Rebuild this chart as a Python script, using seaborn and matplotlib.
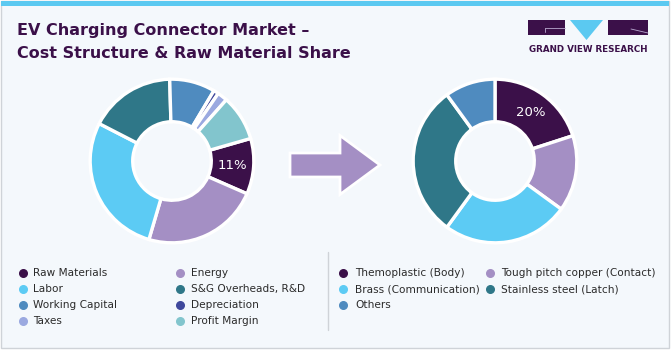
import matplotlib
matplotlib.use("Agg")
import matplotlib.pyplot as plt
import matplotlib.patches as mpatches
import seaborn as sns

# ---------------- data ----------------
cost_labels = ["Raw Materials", "Energy", "Labor", "S&G Overheads, R&D",
               "Working Capital", "Depreciation", "Taxes", "Profit Margin"]
cost_values = [11, 23, 28, 17, 9, 1.0, 2, 9]
cost_colors = ["#3b1049", "#a48fc4", "#5ccbf4", "#2f7788",
               "#4f8bbf", "#3f489c", "#9ba9e0", "#82c5cd"]

mat_labels = ["Themoplastic (Body)", "Tough pitch copper (Contact)",
              "Brass (Communication)", "Stainless steel (Latch)", "Others"]
mat_values = [20, 15, 25, 30, 10]
mat_colors = ["#3b1049", "#a48fc4", "#5ccbf4", "#2f7788", "#4f8bbf"]

title_lines = ["EV Charging Connector Market \u2013",
               "Cost Structure & Raw Material Share"]

# ---------------- figure ----------------
sns.set_style("white")
plt.rcParams["font.family"] = ["DejaVu Sans"]
W, H = 671, 351
fig = plt.figure(figsize=(W / 100, H / 100), dpi=100)
fig.patch.set_facecolor("white")

bg = fig.add_axes([0, 0, 1, 1], zorder=0)
bg.set_xlim(0, W)
bg.set_ylim(H, 0)
bg.axis("off")

# card
bg.add_patch(mpatches.Rectangle((1, 1), W - 3, H - 4, facecolor="#f4f8fc",
                                edgecolor="#cfd3d8", lw=1))
bg.add_patch(mpatches.Rectangle((1, 1), W - 3, 4.5, facecolor="#5bc9f1",
                                edgecolor="none"))

title_color = "#3b1049"
for i, line in enumerate(title_lines):
    bg.text(17, 31 + i * 23, line, fontsize=11.5, fontweight="bold",
            color=title_color, va="center", ha="left")

# logo
bg.add_patch(mpatches.Rectangle((528, 20), 37, 15, facecolor="#3b1049", lw=0))
bg.add_patch(mpatches.Polygon([[570, 20], [603, 20], [586.5, 40]], closed=True,
                              facecolor="#5bc9f1", lw=0))
bg.add_patch(mpatches.Rectangle((608, 20), 40, 15, facecolor="#3b1049", lw=0))
bg.plot([545, 565], [28, 28], color="#b9a9d0", lw=0.6)
bg.plot([545, 545], [28, 32], color="#b9a9d0", lw=0.6)
bg.plot([631, 648], [29, 33], color="#b9a9d0", lw=0.6)
bg.text(588, 50, "GRAND VIEW RESEARCH", fontsize=6.3, fontweight="bold",
        color="#3b1049", ha="center", va="center")

# arrow
bg.add_patch(mpatches.FancyArrow(290, 165, 90, 0, width=24, head_width=59,
                                 head_length=40, length_includes_head=True,
                                 facecolor="#a48fc4", edgecolor="white", lw=2))

# divider
bg.plot([328, 328], [252, 330], color="#cfd3d8", lw=1)


def donut(cx, cy, values, colors, start):
    r = 90
    ax = fig.add_axes([(cx - r) / W, (H - cy - r) / H, 2 * r / W, 2 * r / H],
                      zorder=2)
    wedges, texts, autotexts = ax.pie(
        values, colors=colors, startangle=start, counterclock=False,
        autopct="%.0f%%", pctdistance=0.74,
        wedgeprops=dict(width=0.52, edgecolor="white", linewidth=2.4),
        textprops=dict(color="white", fontsize=9.5))
    for t in autotexts[1:]:
        t.set_text("")
    ax.set_xlim(-1.1, 1.1)
    ax.set_ylim(-1.1, 1.1)
    ax.set_aspect("equal")
    ax.axis("off")
    return ax


donut(172, 161, cost_values, cost_colors, 16)
donut(495, 161, mat_values, mat_colors, 90)


def legend(labels, colors, xs, y0, dy):
    for i, (lab, col) in enumerate(zip(labels, colors)):
        c = i % 2
        r = i // 2
        y = y0 + r * dy
        bg.scatter([xs[c][0]], [y], s=30, color=col, zorder=3)
        bg.text(xs[c][1], y, lab, fontsize=7.6, color="#2b2b2b",
                va="center", ha="left")


legend(cost_labels, cost_colors, [(23, 33), (180, 191)], 273, 16)
legend(mat_labels, mat_colors, [(343, 355), (490, 501)], 273, 16)

fig.savefig("out.png", dpi=100, facecolor=fig.get_facecolor())
